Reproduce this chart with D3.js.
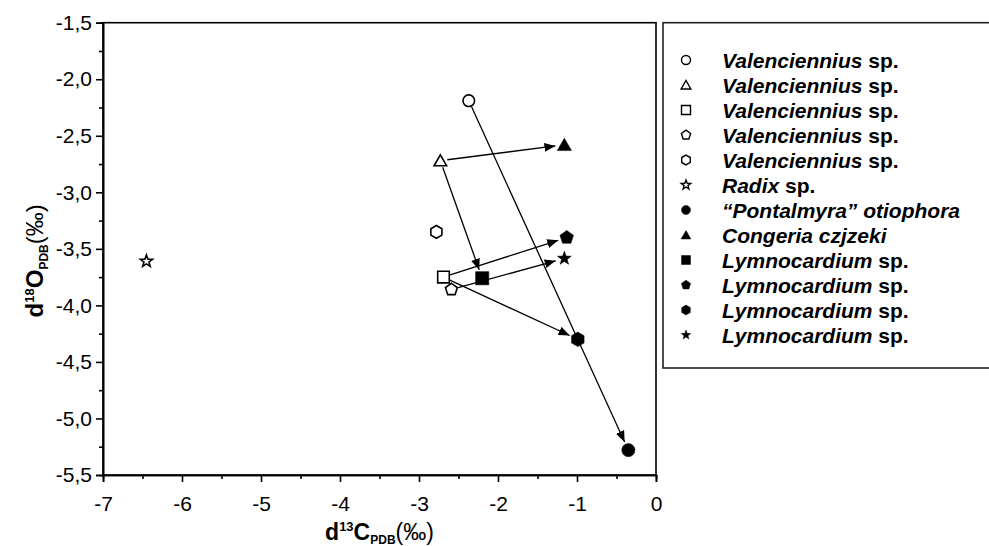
<!DOCTYPE html>
<html><head><meta charset="utf-8">
<script src="https://cdn.jsdelivr.net/npm/d3@7"></script>
<style>html,body{margin:0;padding:0;background:#fff;}svg{display:block;}</style>
</head><body>
<svg id="chart" width="989" height="546"></svg>
<script>
// ---- data ----
const labelsItalic = ["Valenciennius","Valenciennius","Valenciennius","Valenciennius","Valenciennius","Radix","\u201CPontalmyra\u201D otiophora","Congeria czjzeki","Lymnocardium","Lymnocardium","Lymnocardium","Lymnocardium"];
const labelsPlain  = [" sp."," sp."," sp."," sp."," sp."," sp.","",""," sp."," sp."," sp."," sp."];
const shapes = ["circle","triangle","square","pentagon","hexagon","star","circle","triangle","square","pentagon","hexagon","star"];
const filled = [false,false,false,false,false,false,true,true,true,true,true,true];
const d13C = [-2.37,-2.73,-2.69,-2.59,-2.78,-6.45,-0.35,-1.16,-2.20,-1.13,-0.99,-1.16];
const d18O = [-2.19,-2.72,-3.75,-3.86,-3.35,-3.61,-5.28,-2.58,-3.76,-3.40,-4.30,-3.585];
const arrowFrom = [0,1,1,2,2,3];
const arrowTo   = [6,7,8,9,10,11];
const xTicks = [-7,-6,-5,-4,-3,-2,-1,0];
const yTicks = [-1.5,-2.0,-2.5,-3.0,-3.5,-4.0,-4.5,-5.0,-5.5];

// ---- layout ----
const svg = d3.select("#chart");
const L = 103, R = 656, T = 22.7, B = 475;
const x = d3.scaleLinear().domain([-7,0]).range([L,R]);
const y = d3.scaleLinear().domain([-1.5,-5.5]).range([T,B]);
const FONT = "Liberation Sans, Arial, sans-serif";

function shapePath(type, r){
  if(type==="circle"){const p=d3.path();p.arc(0,0,r,0,2*Math.PI);p.closePath();return p.toString();}
  if(type==="square") return `M${-r},${-r}H${r}V${r}H${-r}Z`;
  const poly = (n, rot, rad)=>d3.range(n).map(i=>{const a=rot+i*2*Math.PI/n;return [rad*Math.cos(a),rad*Math.sin(a)];});
  let pts;
  if(type==="triangle") pts = poly(3,-Math.PI/2,r*1.25).map(p=>[p[0],p[1]+r*0.25]);
  else if(type==="pentagon") pts = poly(5,-Math.PI/2,r*1.08);
  else if(type==="hexagon") pts = poly(6,-Math.PI/2,r*1.1);
  else if(type==="star"){
    pts = d3.range(10).map(i=>{const a=-Math.PI/2+i*Math.PI/5;const rr=i%2?r*0.45:r*1.1;return [rr*Math.cos(a),rr*Math.sin(a)];});
  }
  return "M"+pts.map(p=>p[0].toFixed(2)+","+p[1].toFixed(2)).join("L")+"Z";
}

// arrow marker
svg.append("defs").append("marker")
  .attr("id","arr").attr("markerUnits","userSpaceOnUse")
  .attr("markerWidth",12).attr("markerHeight",10)
  .attr("viewBox","0 0 12 10").attr("refX",11).attr("refY",4.5).attr("orient","auto")
  .append("path").attr("d","M0,0L11,4.5L0,9Z").attr("fill","#000");

// frame
svg.append("rect").attr("x",L).attr("y",T).attr("width",R-L).attr("height",B-T)
  .attr("fill","none").attr("stroke","#000").attr("stroke-width",1.6);

const fmt = v=>d3.format(".1f")(v).replace(".",",").replace("\u2212","-");
// y axis
svg.append("g").attr("transform",`translate(${L},0)`)
  .call(d3.axisLeft(y).tickValues(yTicks).tickSize(7).tickPadding(4).tickFormat(fmt));
svg.append("g").attr("transform",`translate(${L},0)`)
  .call(d3.axisLeft(y).tickValues(d3.range(-1.75,-5.5,-0.5)).tickSize(4).tickFormat(""));
// x axis
svg.append("g").attr("transform",`translate(0,${B})`)
  .call(d3.axisBottom(x).tickValues(xTicks).tickSize(7).tickPadding(14).tickFormat(d=>String(d).replace("\u2212","-")));
svg.append("g").attr("transform",`translate(0,${B})`)
  .call(d3.axisBottom(x).tickValues(d3.range(-6.5,0,1)).tickSize(4).tickFormat(""));
svg.selectAll(".domain").attr("stroke","#000").attr("stroke-width",1.6);
svg.selectAll(".tick line").attr("stroke","#000").attr("stroke-width",1.6);
svg.selectAll(".tick text").attr("font-family",FONT).attr("font-size",21).attr("fill","#000");

// axis titles
const xt = svg.append("text").attr("x",(L+R)/2).attr("y",540).attr("text-anchor","middle")
  .attr("font-family",FONT).attr("font-size",23).attr("font-weight","bold");
xt.append("tspan").text("d");
xt.append("tspan").attr("font-size",13).attr("dy",-9).text("13");
xt.append("tspan").attr("dy",9).text("C");
xt.append("tspan").attr("font-size",12).attr("dy",4).text("PDB");
xt.append("tspan").attr("dy",-4).attr("font-weight","normal").text("(\u2030)");

const yt = svg.append("text").attr("transform",`translate(43,${(T+B)/2+12}) rotate(-90)`).attr("text-anchor","middle")
  .attr("font-family",FONT).attr("font-size",24).attr("font-weight","bold");
yt.append("tspan").text("d");
yt.append("tspan").attr("font-size",13).attr("dy",-9).text("18");
yt.append("tspan").attr("dy",9).text("O");
yt.append("tspan").attr("font-size",12).attr("dy",5).text("PDB");
yt.append("tspan").attr("dy",-5).attr("font-weight","normal").text("(\u2030)");

// arrows
const startOff = 7, endOff = 9;
arrowFrom.forEach((f,k)=>{
  const t = arrowTo[k];
  const x1=x(d13C[f]), y1=y(d18O[f]), x2=x(d13C[t]), y2=y(d18O[t]);
  const len=Math.hypot(x2-x1,y2-y1), ux=(x2-x1)/len, uy=(y2-y1)/len;
  svg.append("line").attr("x1",x1+ux*startOff).attr("y1",y1+uy*startOff)
    .attr("x2",x2-ux*endOff).attr("y2",y2-uy*endOff)
    .attr("stroke","#000").attr("stroke-width",1.3).attr("marker-end","url(#arr)");
});

// points
svg.append("g").selectAll("path").data(d13C).join("path")
  .attr("transform",(d,i)=>`translate(${x(d)},${y(d18O[i])})`)
  .attr("d",(d,i)=>shapePath(shapes[i], filled[i]?6.6:5.8))
  .attr("fill",(d,i)=>filled[i]?"#000":"#fff")
  .attr("stroke","#000").attr("stroke-width",(d,i)=>filled[i]?0.5:1.6);

// legend
svg.append("rect").attr("x",663).attr("y",T).attr("width",400).attr("height",368-T)
  .attr("fill","none").attr("stroke","#222").attr("stroke-width",1.6);
const lg = svg.append("g").selectAll("g").data(labelsItalic).join("g")
  .attr("transform",(d,i)=>`translate(0,${60+i*25})`);
lg.append("path").attr("transform","translate(686,0)")
  .attr("d",(d,i)=>shapePath(shapes[i],4.5))
  .attr("fill",(d,i)=>filled[i]?"#000":"#fff").attr("stroke","#000").attr("stroke-width",(d,i)=>filled[i]?0.5:1.4);
const lt = lg.append("text").attr("x",722).attr("y",7.5)
  .attr("font-family",FONT).attr("font-size",21).attr("font-weight","bold");
lt.append("tspan").attr("font-style","italic").text(d=>d);
lt.append("tspan").text((d,i)=>labelsPlain[i]);
</script>
</body></html>
